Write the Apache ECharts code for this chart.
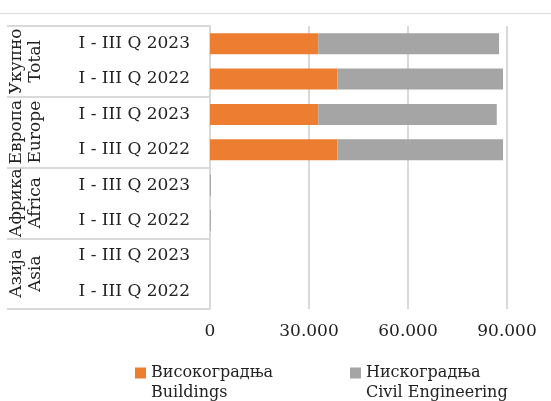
<!DOCTYPE html>
<html><head><meta charset="utf-8">
<script src="https://cdn.jsdelivr.net/npm/echarts@6/dist/echarts.min.js"></script>
<style>html,body{margin:0;padding:0;background:#fff}#c{width:551px;height:401px}</style>
</head><body><div id="c"></div>
<script>
const periods = ['I - III Q 2023','I - III Q 2022','I - III Q 2023','I - III Q 2022','I - III Q 2023','I - III Q 2022','I - III Q 2023','I - III Q 2022'];
const groups = ['Укупно\nTotal','Европа\nEurope','Африка\nAfrica','Азија\nAsia'];
const buildings = [32800, 38600, 32800, 38600, 0, 0, 0, 0];
const civil = [54800, 50200, 54100, 50200, 300, 250, 0, 0];
const seriesNames = ['Високоградња\nBuildings','Нискоградња\nCivil Engineering'];
const xTicks = [0, 30000, 60000, 90000];

const font = 'DejaVu Serif';
const chart = echarts.init(document.getElementById('c'));
chart.setOption({
  animation:false,
  grid:{left:210,right:44,top:26,bottom:92},
  legend:{
    left:135, top:343, padding:0, itemWidth:11, itemHeight:11, itemGap:19, icon:'rect',
    data:seriesNames,
    textStyle:{fontFamily:font,fontSize:16,color:'#222',lineHeight:20,width:180},
    formatter:function(n){return '\n'+n;}
  },
  xAxis:{
    type:'value', min:xTicks[0], max:xTicks[xTicks.length-1], interval:30000,
    axisLine:{show:false}, axisTick:{show:false},
    splitLine:{lineStyle:{color:'#d9d9d9',width:2}},
    axisLabel:{fontFamily:font,fontSize:17,color:'#222',margin:14,
      formatter:function(v){return v===0?'0':v.toLocaleString('de-DE');}}
  },
  yAxis:[{
    type:'category', data:periods, inverse:true, position:'left',
    axisLine:{show:true,lineStyle:{color:'#d9d9d9',width:2}},
    axisTick:{show:false}, splitLine:{show:false},
    axisLabel:{fontFamily:font,fontSize:17,color:'#222',margin:20,interval:0}
  },{
    type:'category', data:groups, inverse:true, position:'left', offset:0,
    axisLine:{show:false}, splitLine:{show:false},
    axisTick:{show:true,interval:0,length:203,lineStyle:{color:'#d9d9d9',width:2,cap:'butt'}},
    axisLabel:{fontFamily:font,fontSize:17,color:'#222',rotate:90,margin:165,lineHeight:19,interval:0}
  }],
  graphic:[{type:'line',shape:{x1:0,y1:13.5,x2:551,y2:13.5},style:{stroke:'#e3e3e3',lineWidth:1.5},silent:true}],
  series:[
    {name:seriesNames[0],type:'bar',stack:'a',data:buildings,barWidth:21,itemStyle:{color:'#ED7D31'}},
    {name:seriesNames[1],type:'bar',stack:'a',data:civil,barWidth:21,itemStyle:{color:'#A5A5A5'}}
  ]
});
</script></body></html>
